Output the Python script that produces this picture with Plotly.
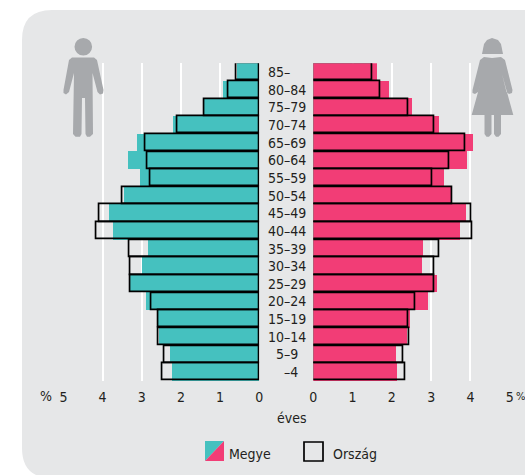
import plotly.graph_objects as go

ages = ["85–", "80–84", "75–79", "70–74", "65–69", "60–64", "55–59", "50–54", "45–49",
        "40–44", "35–39", "30–34", "25–29", "20–24", "15–19", "10–14", "5–9", "–4"]
age_labels = ["85–\u2007\u2007", "80–84", "75–79", "70–74", "65–69", "60–64", "55–59", "50–54", "45–49",
              "40–44", "35–39", "30–34", "25–29", "20–24", "15–19", "10–14", "5–9\u2007", "–4\u2007"]
male_county = [0.55, 0.91, 1.40, 2.18, 3.11, 3.33, 3.03, 3.44, 3.83, 3.72, 2.83, 2.99, 3.29, 2.88, 2.57, 2.55, 2.27, 2.22]
male_country = [0.57, 0.79, 1.41, 2.09, 2.90, 2.86, 2.78, 3.49, 4.07, 4.15, 3.32, 3.29, 3.30, 2.76, 2.57, 2.57, 2.42, 2.47]
female_county = [1.64, 1.93, 2.53, 3.21, 4.07, 3.91, 3.34, 3.53, 3.89, 3.74, 2.80, 2.78, 3.15, 2.92, 2.48, 2.40, 2.12, 2.14]
female_country = [1.49, 1.70, 2.42, 3.08, 3.86, 3.45, 3.04, 3.55, 4.01, 4.06, 3.20, 3.09, 3.09, 2.60, 2.43, 2.45, 2.29, 2.35]
ticks = [0, 1, 2, 3, 4, 5]

W, H = 525, 475
TEAL, PINK, GRAY, INK, PANEL = "#45c1bf", "#f23d76", "#a7a9ac", "#231f20", "#e6e7e8"
FONT = "DejaVu Sans Condensed, Roboto, sans-serif"


def px(x):
    return x / W


def py(y):
    return 1 - y / H


def path(pts):
    return "M" + " L".join(f"{px(x):.5f},{py(y):.5f}" for x, y in pts) + " Z"


def shape(d, fill, line=None, lw=0):
    return dict(type="path", xref="paper", yref="paper", path=d, fillcolor=fill,
                line=dict(color=line or "rgba(0,0,0,0)", width=lw), layer="below")


fig = go.Figure()
for side, county, country, color in [("x", male_county, male_country, TEAL),
                                     ("x2", female_county, female_country, PINK)]:
    ya = "y" if side == "x" else "y2"
    fig.add_bar(y=ages, x=county, orientation="h", xaxis=side, yaxis=ya, width=1,
                marker=dict(color=color, line=dict(width=0)), showlegend=False)
    fig.add_bar(y=ages, x=country, orientation="h", xaxis=side, yaxis=ya, width=0.97,
                marker=dict(color="rgba(0,0,0,0)", line=dict(color="#000000", width=1.7)), showlegend=False)

axis_font = dict(family=FONT, size=14, color=INK)
common_x = dict(tickvals=ticks, showgrid=True, gridcolor="#ffffff", gridwidth=1.5, zeroline=False,
                showline=False, ticks="", tickfont=axis_font, ticklabelstandoff=6)
fig.update_layout(
    width=W, height=H, margin=dict(l=0, r=0, t=0, b=0, pad=0, autoexpand=False), barmode="overlay",
    paper_bgcolor="#ffffff", plot_bgcolor="rgba(0,0,0,0)", bargap=0,
    xaxis=dict(domain=[px(63.4), px(259.2)], range=[5, 0], anchor="y", **common_x),
    xaxis2=dict(domain=[px(313.3), px(509.7)], range=[0, 5], anchor="y2", **common_x),
    yaxis=dict(domain=[py(381), py(63.3)], range=[17.5, -0.5], showticklabels=False, showgrid=False,
               zeroline=False, anchor="x", type="category", categoryorder="array", categoryarray=ages),
    yaxis2=dict(domain=[py(381), py(63.3)], range=[17.5, -0.5], showgrid=False, zeroline=False, anchor="x2",
                type="category", categoryorder="array", categoryarray=ages, tickvals=ages, ticktext=age_labels,
                tickfont=axis_font, ticks="", ticklabelstandoff=6),
)

# Panel with rounded corners
r = 30
x0, y0, x1, y1 = 22, 10, 525, 478
panel = (f"M{px(x0 + r):.5f},{py(y0):.5f} L{px(x1):.5f},{py(y0):.5f} L{px(x1):.5f},{py(y1):.5f} "
         f"L{px(x0 + r):.5f},{py(y1):.5f} Q{px(x0):.5f},{py(y1):.5f} {px(x0):.5f},{py(y1 - r):.5f} "
         f"L{px(x0):.5f},{py(y0 + r):.5f} Q{px(x0):.5f},{py(y0):.5f} {px(x0 + r):.5f},{py(y0):.5f} Z")
shapes = [shape(panel, PANEL)]

# Man icon
shapes.append(dict(type="circle", xref="paper", yref="paper", x0=px(74.5), x1=px(92.1), y0=py(55.5), y1=py(37.9),
                   fillcolor=GRAY, line=dict(width=0), layer="above"))
man = [(72, 57.5), (94, 57.5), (97, 60), (103.5, 90), (103, 93.5), (100, 94.5), (97.5, 92), (92.5, 73), (93, 134),
       (90, 136.7), (87, 136.7), (85.5, 134), (85, 98), (82, 98), (81.5, 134), (80, 136.7), (75.5, 136.7), (73, 134),
       (74, 73), (69, 92), (66, 94.5), (63.5, 93), (63.5, 90), (69, 60)]
shapes.append({**shape(path(man), GRAY), "layer": "above"})

# Woman icon
hair = [(482, 54), (484, 44), (487, 40), (492, 38), (498, 40), (501, 44), (503, 54)]
shapes.append({**shape(path(hair), GRAY), "layer": "above"})
dress = [(484, 57), (492, 58), (501, 57), (505, 60), (512.5, 90), (512, 93), (509, 94), (506.5, 92), (502, 74),
         (513.3, 115), (501, 115), (501, 134), (498.5, 136.7), (496, 136.7), (494, 134), (494, 115), (491.5, 115),
         (491.5, 134), (489, 136.7), (486.5, 136.7), (484.5, 134), (484.5, 115), (471.7, 115), (483, 74), (478, 92),
         (475, 94), (472.5, 93), (472.5, 90), (480, 60)]
shapes.append({**shape(path(dress), GRAY), "layer": "above"})

# Legend swatches
shapes.append({**shape(path([(205, 441), (224, 441), (205, 461)]), TEAL), "layer": "above"})
shapes.append({**shape(path([(224, 441), (224, 461), (205, 461)]), PINK), "layer": "above"})
shapes.append(dict(type="rect", xref="paper", yref="paper", x0=px(304), x1=px(323), y0=py(461), y1=py(442),
                   fillcolor="rgba(0,0,0,0)", line=dict(color="#000000", width=1.7), layer="above"))
fig.update_layout(shapes=shapes)


def label(text, x, y, anchor="center", size=14):
    fig.add_annotation(text=text, xref="paper", yref="paper", x=px(x), y=py(y), xanchor=anchor, yanchor="middle",
                       showarrow=False, font={**axis_font, "size": size}, borderpad=0, borderwidth=0)


label("%", 46, 396)
label("%", 525, 396, "right", 11)
label("éves", 292, 418)
label("Megye", 229, 454, "left")
label("Ország", 333, 454, "left")

fig.write_html("out.html", config={"displayModeBar": False}, post_script="document.body.style.margin='0';")
